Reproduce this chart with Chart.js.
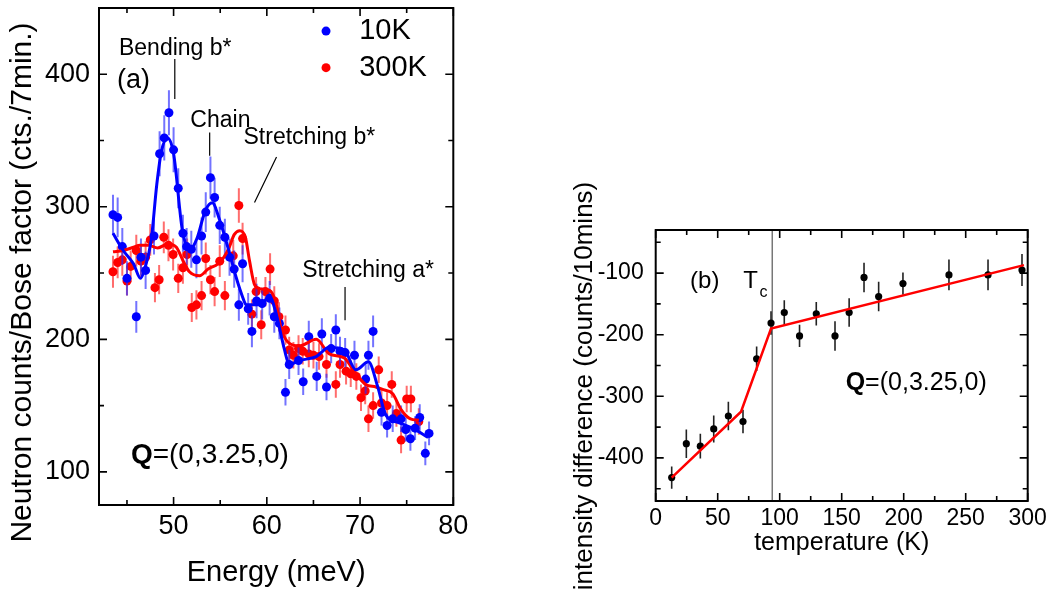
<!DOCTYPE html>
<html><head><meta charset="utf-8">
<script src="https://cdn.jsdelivr.net/npm/chart.js@4.4.0/dist/chart.umd.min.js"></script>
<style>
html,body{margin:0;padding:0;background:#fff;width:1053px;height:596px;overflow:hidden}
#a{position:absolute;left:0;top:0}
#b{position:absolute;left:520px;top:0}
</style></head><body>
<canvas id="a" width="520" height="596"></canvas>
<canvas id="b" width="533" height="596"></canvas>
<script>
const FONT = '"Liberation Sans", Arial, Helvetica, sans-serif';

// ---------- panel (a) data ----------
const energy10K = [43.5,44.0,44.5,45.0,46.0,46.5,47.0,47.9,48.5,49.0,49.5,50.0,50.5,51.0,51.4,51.9,52.45,53.0,53.45,53.95,54.4,54.95,55.5,56.0,56.5,57.0,57.4,58.0,58.4,58.9,59.5,60.3,60.8,61.35,62.0,62.4,63.4,63.9,64.5,65.35,65.9,66.4,66.9,67.4,67.85,68.4,69.4,70.6,70.9,71.4,72.3,72.9,73.5,74.4,74.9,75.4,75.9,76.4,77.0,77.4];
const counts10K = [294,292,270,246,217,262,252,278,340,352,371,343,314,280,270,268,260,278,296,322,307,286,277,262,253,226,257,223,206,229,227,231,217,212,160,181,184,168,202,172,204,164,193,207,191,190,188,170,188,206,145,135,140,140,132,125,133,141,114,129];
const err10K = [15,15,14,13,12,14,14,14,17,17,17,17,15,14,14,14,14,14,15,16,15,14,14,14,14,12,14,12,12,13,12,13,12,12,10,11,11,10,12,11,12,10,11,12,11,11,11,11,11,12,10,9,10,10,9,9,9,10,9,9];

const energy300K = [43.5,44.0,44.5,45.0,45.4,46.0,46.5,47.0,47.5,48.0,48.45,48.95,49.45,49.95,50.5,51.0,51.45,51.95,52.45,53.0,53.45,53.95,54.4,54.95,55.5,56.4,57.0,57.4,58.4,58.85,59.4,59.85,60.35,60.8,61.3,62.0,62.4,62.85,63.4,63.85,64.5,65.0,65.6,66.4,67.4,67.85,68.5,69.0,69.6,70.1,70.55,70.9,71.4,72.0,72.3,72.9,73.4,73.9,74.4,75.0,75.45,76.3];
const counts300K = [251,258,260,244,255,267,259,262,275,239,245,277,271,264,246,254,264,224,226,233,261,245,236,259,233,263,301,276,219,236,211,236,253,229,217,207,192,188,193,191,189,188,187,181,166,181,176,174,172,156,161,140,150,177,152,150,166,144,124,155,155,138];
const err300K = [12,12,12,11,12,12,12,12,12,11,11,12,12,12,11,12,12,11,11,11,12,11,11,12,11,12,13,12,11,11,11,11,12,11,11,11,10,10,10,10,10,10,10,10,10,10,10,10,10,10,10,10,10,10,10,10,10,10,10,10,10,10];

const fitEnergy10K = [43.5,44.6,45.7,46.45,46.9,47.6,48.2,48.7,49.35,50.0,50.95,51.8,52.5,53.4,54.15,54.94,55.8,56.7,57.4,57.8,59.2,60.3,60.9,61.9,62.4,63.5,65.3,66.7,68.3,69.55,70.9,71.9,72.75,74.2,75.6,77.3];
const fit10K = [280,267,257,246,253,275,317,342,352,340,282,268,276,297,303,290,270,247,232,226,226,232,222,192,181,184,187,194,192,177,183,164,143,137,133,126];
const fitEnergy300K = [43.5,44.6,45.7,46.4,47.3,48.3,49.4,50.3,51.0,51.7,52.8,53.7,54.76,55.4,56.0,56.5,57.1,57.7,58.15,58.7,59.4,60.3,61.0,61.5,62.25,63.5,65.3,66.7,68.3,69.55,70.6,71.7,72.5,73.5,74.4,75.4,76.3];
const fit300K = [266,267,269.5,271,271,269,272,269.5,259.5,251,248,253,257,262,270,279,282,277,259,241,238,237,227,209,198,195,200,189,186,174,166,164,162,159,147,140,139];

const xTicksA = [50,60,70,80];
const xMinorA = [45,55,65,75];
const yTicksA = [100,200,300,400];
const yMinorA = [150,250,350];

// ---------- panel (b) data ----------
const temperature = [12.9,24.7,36,46.8,58.6,70.4,81.4,93,103.7,116,129.5,144.6,156,168,179.8,199.4,236.5,268,295.4];
const intensityDiff = [-432,-377,-381,-353,-332,-341,-239,-181,-164,-202,-166,-202,-164,-107,-138,-117,-103,-103,-95];
const intensityErr = [18,23,20,22,23,19,20,19,20,18,19,24,23,24,24,18,25,25,26];
const fitTemperature = [12.9,68.8,93,297];
const fitIntensity = [-432,-325,-190,-87];
const Tc = 94;
const xTicksB = [0,50,100,150,200,250,300];
const xMinorB = [25,75,125,175,225,275];
const yTicksB = [-400,-300,-200,-100];
const yMinorB = [-450,-350,-250,-150,-50];

const pts = (xs, ys) => xs.map((x, i) => ({x, y: ys[i]}));

// ---------- plugins ----------
const errorBars = {
  id: 'errorBars',
  beforeDatasetDraw(chart, args) {
    const ds = chart.data.datasets[args.index];
    if (!ds.errors) return;
    const xs = chart.scales.x, ys = chart.scales.y, ctx = chart.ctx;
    ctx.save();
    ctx.strokeStyle = ds.errorColor; ctx.lineWidth = ds.errorWidth;
    ctx.beginPath();
    ds.data.forEach((p, i) => {
      const x = xs.getPixelForValue(p.x);
      ctx.moveTo(x, ys.getPixelForValue(p.y + ds.errors[i]));
      ctx.lineTo(x, ys.getPixelForValue(p.y - ds.errors[i]));
    });
    ctx.stroke(); ctx.restore();
  }
};

function makeFrame(xMajor, xMinor, yMajor, yMinor) {
  return { id: 'frame', afterDatasetsDraw(chart) {
    const {ctx, chartArea: a} = chart; const xs = chart.scales.x, ys = chart.scales.y;
    ctx.save(); ctx.strokeStyle = '#000'; ctx.lineWidth = 1.6;
    ctx.beginPath();
    const tx = (v, L) => { const p = xs.getPixelForValue(v); ctx.moveTo(p, a.bottom); ctx.lineTo(p, a.bottom - L); ctx.moveTo(p, a.top); ctx.lineTo(p, a.top + L); };
    const ty = (v, L) => { const p = ys.getPixelForValue(v); ctx.moveTo(a.left, p); ctx.lineTo(a.left + L, p); ctx.moveTo(a.right, p); ctx.lineTo(a.right - L, p); };
    xMajor.forEach(v => tx(v, 8)); xMinor.forEach(v => tx(v, 5));
    yMajor.forEach(v => ty(v, 8)); yMinor.forEach(v => ty(v, 5));
    ctx.stroke();
    ctx.lineWidth = 2;
    ctx.strokeRect(a.left, a.top, a.right - a.left, a.bottom - a.top);
    ctx.restore();
  }};
}

function textAt(ctx, t, x, y, size, opts = {}) {
  ctx.font = (opts.bold ? 'bold ' : '') + size + 'px ' + FONT;
  ctx.fillStyle = '#000';
  ctx.textAlign = opts.align || 'left';
  ctx.textBaseline = 'middle';
  ctx.fillText(t, x, y);
  return ctx.measureText(t).width;
}
function qLabel(ctx, x, y, size) {
  const w = textAt(ctx, 'Q', x, y, size, {bold: true});
  textAt(ctx, '=(0,3.25,0)', x + w, y, size);
}
function vText(ctx, t, x, y, size) {
  ctx.save(); ctx.translate(x, y); ctx.rotate(-Math.PI / 2);
  textAt(ctx, t, 0, 0, size, {align: 'center'});
  ctx.restore();
}

const notesA = {
  id: 'notesA',
  afterDraw(chart) {
    const ctx = chart.ctx, X = v => chart.scales.x.getPixelForValue(v), Y = v => chart.scales.y.getPixelForValue(v);
    const a = chart.chartArea;
    ctx.save();
    textAt(ctx, 'Bending b*', X(44.14), Y(419), 23);
    textAt(ctx, '(a)', X(43.93), Y(395), 27);
    textAt(ctx, 'Chain', X(51.8), Y(365), 23);
    textAt(ctx, 'Stretching b*', X(57.5), Y(352), 23);
    textAt(ctx, 'Stretching a*', X(63.8), Y(252), 23);
    ctx.strokeStyle = '#000'; ctx.lineWidth = 1.2; ctx.beginPath();
    [[50.13,411.5,50.13,381.4],[53.87,356,53.87,338.5],[61.04,337.5,58.68,303.2],[68.39,239.4,68.39,214.4]].forEach(l => {
      ctx.moveTo(X(l[0]), Y(l[1])); ctx.lineTo(X(l[2]), Y(l[3]));
    });
    ctx.stroke();
    qLabel(ctx, X(45.42), Y(112.8), 28);
    // legend
    [['10K', '#0000ff', 432.6], ['300K', '#ff0000', 405]].forEach(([t, c, v]) => {
      ctx.fillStyle = c; ctx.beginPath(); ctx.arc(X(66.35), Y(v), 4.5, 0, Math.PI * 2); ctx.fill();
      textAt(ctx, t, X(69.9), Y(v), 29);
    });
    // axis titles
    textAt(ctx, 'Energy (meV)', (a.left + a.right) / 2, 573, 29, {align: 'center'});
    vText(ctx, 'Neutron counts/Bose factor (cts./7min.)', 23, 282.5, 30);
    ctx.restore();
  }
};

const notesB = {
  id: 'notesB',
  afterDraw(chart) {
    const ctx = chart.ctx, X = v => chart.scales.x.getPixelForValue(v), Y = v => chart.scales.y.getPixelForValue(v);
    const a = chart.chartArea;
    ctx.save();
    textAt(ctx, '(b)', X(27.7), Y(-113), 24);
    const w = textAt(ctx, 'T', X(70.6), Y(-113.5), 24);
    textAt(ctx, 'c', X(70.6) + w + 1.5, Y(-130.9), 16);
    qLabel(ctx, X(153.2), Y(-278.2), 25);
    textAt(ctx, 'temperature (K)', (a.left + a.right) / 2, 543, 25, {align: 'center'});
    vText(ctx, 'intensity difference (counts/10mins)', 65, 386, 26);
    ctx.restore();
  }
};

const tickFont = size => ({font: {family: FONT, size}, color: '#000', autoSkip: false, maxRotation: 0, minRotation: 0});
const fixX = h => s => { s.height = h; s.paddingLeft = 0; s.paddingRight = 0; };
const fixY = w => s => { s.width = w; s.paddingTop = 0; s.paddingBottom = 0; };

// ---------- chart (a) ----------
new Chart(document.getElementById('a'), {
  type: 'scatter',
  data: { datasets: [
    { data: pts(fitEnergy10K, fit10K), showLine: true, pointRadius: 0, borderColor: '#0000ff', borderWidth: 3, cubicInterpolationMode: 'monotone', order: 1 },
    { data: pts(fitEnergy300K, fit300K), showLine: true, pointRadius: 0, borderColor: '#ff0000', borderWidth: 3, cubicInterpolationMode: 'monotone', order: 2 },
    { data: pts(energy10K, counts10K), errors: err10K, errorColor: 'rgba(40,40,255,0.65)', errorWidth: 2,
      pointRadius: 4.5, pointBorderWidth: 0, backgroundColor: '#0000ff', order: 3 },
    { data: pts(energy300K, counts300K), errors: err300K, errorColor: 'rgba(255,30,30,0.65)', errorWidth: 2,
      pointRadius: 4.5, pointBorderWidth: 0, backgroundColor: '#ff0000', order: 4 }
  ]},
  options: {
    responsive: false, animation: false, events: [],
    layout: {padding: {left: 0, top: 8, right: 66.7, bottom: 0}},
    plugins: {legend: {display: false}, tooltip: {enabled: false}},
    scales: {
      x: { type: 'linear', min: 42, max: 80,
        afterBuildTicks: s => { s.ticks = xTicksA.map(v => ({value: v})); },
        afterFit: fixX(91),
        grid: {display: false, drawTicks: false}, border: {display: false},
        ticks: Object.assign(tickFont(27), {padding: 5}) },
      y: { type: 'linear', min: 75, max: 450,
        afterBuildTicks: s => { s.ticks = yTicksA.map(v => ({value: v})); },
        afterFit: fixY(99),
        grid: {display: false, drawTicks: false}, border: {display: false},
        ticks: Object.assign(tickFont(27), {padding: 9}) }
    }
  },
  plugins: [errorBars, makeFrame(xTicksA, xMinorA, yTicksA, yMinorA), notesA]
});

// ---------- chart (b) ----------
new Chart(document.getElementById('b'), {
  type: 'scatter',
  data: { datasets: [
    { data: pts(fitTemperature, fitIntensity), showLine: true, pointRadius: 0, borderColor: '#ff0000', borderWidth: 2.5, tension: 0, order: 1 },
    { data: pts(temperature, intensityDiff), errors: intensityErr, errorColor: '#222', errorWidth: 1.6,
      pointRadius: 3.6, pointBorderWidth: 0, backgroundColor: '#000', order: 2 },
    { data: pts([Tc, Tc], [-470, -30]), showLine: true, pointRadius: 0, borderColor: '#777', borderWidth: 1.5, order: 3 }
  ]},
  options: {
    responsive: false, animation: false, events: [],
    layout: {padding: {left: 0, top: 230, right: 25.3, bottom: 0}},
    plugins: {legend: {display: false}, tooltip: {enabled: false}},
    scales: {
      x: { type: 'linear', min: 0, max: 300,
        afterBuildTicks: s => { s.ticks = xTicksB.map(v => ({value: v})); },
        afterFit: fixX(95),
        grid: {display: false, drawTicks: false}, border: {display: false},
        ticks: Object.assign(tickFont(23), {padding: 4}) },
      y: { type: 'linear', min: -470, max: -30,
        afterBuildTicks: s => { s.ticks = yTicksB.map(v => ({value: v})); },
        afterFit: fixY(135.7),
        grid: {display: false, drawTicks: false}, border: {display: false},
        ticks: Object.assign(tickFont(23), {padding: 12}) }
    }
  },
  plugins: [errorBars, makeFrame(xTicksB, xMinorB, yTicksB, yMinorB), notesB]
});
</script>
</body></html>
